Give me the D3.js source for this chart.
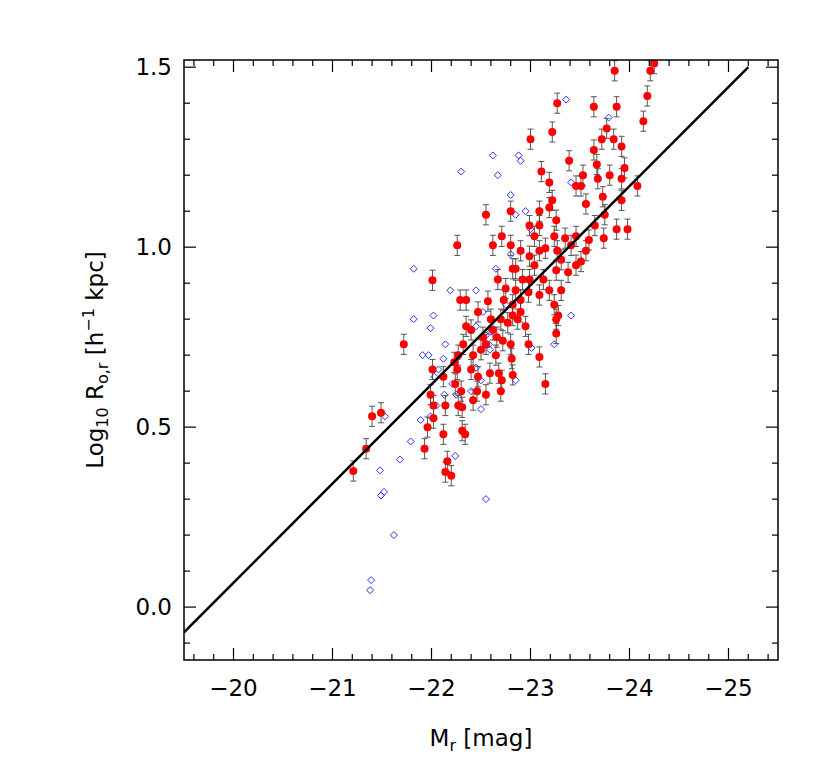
<!DOCTYPE html><html><head><meta charset="utf-8"><script src="https://cdn.jsdelivr.net/npm/d3@7"></script>
<style>body{margin:0;background:#fff}text{font-family:"DejaVu Sans",sans-serif;fill:#000}</style></head><body><svg id="c" width="830" height="779"></svg>
<script>
const redM=[-21.21,-21.34,-21.40,-21.49,-21.72,-21.93,-21.96,-22.01,-22.02,-22.02,-21.99,-22.01,-22.12,-22.14,-22.12,-22.14,-22.16,-22.20,-22.23,-22.27,-22.24,-22.26,-22.30,-22.27,-22.31,-22.31,-22.34,-22.26,-22.29,-22.35,-22.35,-22.32,-22.40,-22.42,-22.40,-22.47,-22.42,-22.46,-22.47,-22.52,-22.55,-22.50,-22.55,-22.57,-22.60,-22.62,-22.65,-22.66,-22.59,-22.68,-22.55,-22.62,-22.71,-22.67,-22.75,-22.73,-22.70,-22.77,-22.72,-22.71,-22.70,-22.80,-22.80,-22.82,-22.85,-22.82,-22.82,-22.80,-22.81,-22.82,-22.90,-22.85,-22.92,-22.87,-22.90,-22.98,-22.95,-22.99,-23.00,-23.11,-23.19,-23.22,-23.09,-23.19,-23.26,-23.24,-23.09,-23.04,-23.04,-23.09,-23.19,-23.24,-23.28,-23.26,-23.15,-23.27,-23.15,-23.27,-23.22,-23.35,-23.41,-23.46,-23.39,-23.46,-23.51,-23.56,-23.53,-23.31,-23.38,-23.46,-23.51,-23.56,-23.59,-23.64,-23.64,-23.67,-23.68,-23.73,-23.75,-23.72,-23.77,-23.80,-23.84,-23.85,-23.87,-23.92,-23.92,-23.92,-23.87,-23.74,-23.95,-23.98,-24.08,-24.21,-24.25,-24.18,-24.14,-23.65,-23.31,-23.09,-22.99,-23.26,-23.13,-22.99,-23.09,-23.26,-22.90,-22.98];
const redR=[0.378,0.44,0.53,0.54,0.73,0.44,0.50,0.908,0.525,0.56,0.59,0.66,0.64,0.56,0.48,0.375,0.405,0.365,0.68,0.70,0.62,0.66,0.60,0.56,0.555,0.49,0.48,1.005,0.853,0.853,0.78,0.73,0.77,0.70,0.66,0.64,0.575,0.60,0.82,0.75,0.73,0.715,1.09,0.85,0.80,0.77,0.70,0.75,0.65,0.65,0.59,1.005,1.03,0.91,0.885,0.853,0.80,0.79,0.74,0.63,0.60,1.10,1.005,0.94,0.88,0.84,0.81,0.73,0.69,0.645,0.99,0.94,0.91,0.80,0.853,0.73,0.78,0.91,1.30,1.21,1.18,1.13,1.10,1.11,1.075,1.03,0.99,1.03,0.95,0.867,0.88,0.84,0.81,0.76,0.997,0.99,0.62,1.40,1.32,1.025,1.005,1.03,1.24,1.17,1.17,1.12,1.20,0.88,0.93,0.95,0.96,0.99,1.02,1.39,1.27,1.23,1.19,1.14,1.09,1.30,1.33,1.20,1.30,1.49,1.39,1.28,1.19,1.13,1.05,1.025,1.22,1.05,1.17,1.49,1.51,1.42,1.35,1.06,0.965,1.06,1.06,0.936,0.91,0.975,0.695,0.80,0.82,0.875];
const redErr=0.028;
const blueM=[-22.30,-22.62,-22.67,-22.88,-22.90,-22.80,-22.95,-23.36,-23.79,-23.41,-21.82,-21.82,-22.02,-21.99,-22.14,-22.07,-21.91,-21.97,-22.12,-22.21,-22.25,-22.45,-22.52,-22.55,-22.58,-22.60,-22.40,-22.50,-22.55,-22.50,-22.75,-22.85,-22.80,-23.01,-23.24,-22.13,-22.24,-21.48,-21.79,-21.89,-21.99,-22.05,-22.03,-21.68,-21.49,-21.52,-21.62,-21.39,-21.38,-21.53,-22.59,-22.45,-22.85,-23.41,-22.19,-22.45,-22.65,-23.00];
const blueR=[1.21,1.255,1.20,1.255,1.24,1.145,1.10,1.41,1.36,1.18,0.94,0.80,0.81,0.775,0.73,0.66,0.70,0.70,0.69,0.62,0.59,0.78,0.82,0.755,0.73,0.765,0.60,0.55,0.30,0.63,0.84,1.09,0.98,0.72,0.73,0.59,0.42,0.38,0.46,0.52,0.53,0.56,0.64,0.41,0.31,0.32,0.20,0.075,0.047,0.53,0.715,0.665,0.63,0.81,0.88,0.88,0.94,1.05];
const fitLine=[[-19.5,-0.07],[-25.2,1.5]];
const xTicks=[-20,-21,-22,-23,-24,-25], yTicks=[0.0,0.5,1.0,1.5];
const svg=d3.select("#c");
const L=184,R=778,T=60,B=660;
const x=d3.scaleLinear().domain([-19.5,-25.5]).range([L,R]);
const y=d3.scaleLinear().domain([-0.147,1.52]).range([B,T]);
const g=svg.append("g");
g.append("defs").append("clipPath").attr("id","cp").append("rect").attr("x",L).attr("y",T).attr("width",R-L).attr("height",B-T);
const pl=g.append("g").attr("clip-path","url(#cp)");
pl.selectAll(".b").data(blueM).enter().append("path").attr("d","M0,-3.5L3.5,0L0,3.5L-3.5,0Z")
 .attr("transform",(d,i)=>`translate(${x(d)},${y(blueR[i])})`).attr("fill","none").attr("stroke","#3030ff").attr("stroke-width",1);
const eb=pl.append("g").attr("stroke","#444").attr("stroke-width",0.9);
redM.forEach((m,i)=>{const X=x(m),y1=y(redR[i]-redErr),y2=y(redR[i]+redErr);
 eb.append("line").attr("x1",X).attr("x2",X).attr("y1",y1).attr("y2",y2);
 eb.append("line").attr("x1",X-3).attr("x2",X+3).attr("y1",y1).attr("y2",y1);
 eb.append("line").attr("x1",X-3).attr("x2",X+3).attr("y1",y2).attr("y2",y2);});
pl.selectAll(".r").data(redM).enter().append("circle").attr("cx",d=>x(d)).attr("cy",(d,i)=>y(redR[i])).attr("r",4).attr("fill","#ff0000");
pl.append("path").attr("d",d3.line().x(d=>x(d[0])).y(d=>y(d[1]))(fitLine)).attr("stroke","#000").attr("stroke-width",2.5).attr("fill","none");
g.append("rect").attr("x",L).attr("y",T).attr("width",R-L).attr("height",B-T).attr("fill","none").attr("stroke","#000").attr("stroke-width",1.5);
const tk=g.append("g").attr("stroke","#000").attr("stroke-width",1.2);
d3.range(-19.6,-25.51,-0.2).forEach(v=>{const X=x(v);const maj=Math.abs(v-Math.round(v))<0.01;const len=maj?12:6;
 tk.append("line").attr("x1",X).attr("x2",X).attr("y1",B).attr("y2",B-len);
 tk.append("line").attr("x1",X).attr("x2",X).attr("y1",T).attr("y2",T+len);});
d3.range(-0.1,1.51,0.1).forEach(v=>{const Y=y(v);const maj=Math.abs(v*2-Math.round(v*2))<0.01;const len=maj?12:6;
 tk.append("line").attr("y1",Y).attr("y2",Y).attr("x1",L).attr("x2",L+len);
 tk.append("line").attr("y1",Y).attr("y2",Y).attr("x1",R).attr("x2",R-len);});
xTicks.forEach(v=>g.append("text").attr("x",x(v)).attr("y",B+36).attr("text-anchor","middle").attr("font-size",23).text("\u2212"+Math.abs(v)));
yTicks.forEach(v=>g.append("text").attr("x",L-12).attr("y",y(v)+8).attr("text-anchor","end").attr("font-size",23).text(v.toFixed(1)));
const xl=g.append("text").attr("x",(L+R)/2).attr("y",B+86).attr("text-anchor","middle").attr("font-size",23);
xl.append("tspan").text("M");xl.append("tspan").attr("font-size",16).attr("dy",5).text("r");xl.append("tspan").attr("dy",-5).text(" [mag]");
const yl=g.append("text").attr("transform",`translate(103,${(T+B)/2}) rotate(-90)`).attr("text-anchor","middle").attr("font-size",23);
yl.append("tspan").text("Log");yl.append("tspan").attr("font-size",16).attr("dy",5).text("10");
yl.append("tspan").attr("dy",-5).text(" R");yl.append("tspan").attr("font-size",16).attr("dy",5).text("o,r");
yl.append("tspan").attr("dy",-5).text(" [h");yl.append("tspan").attr("font-size",16).attr("dy",-9).text("\u22121");
yl.append("tspan").attr("dy",9).text(" kpc]");
</script></body></html>
